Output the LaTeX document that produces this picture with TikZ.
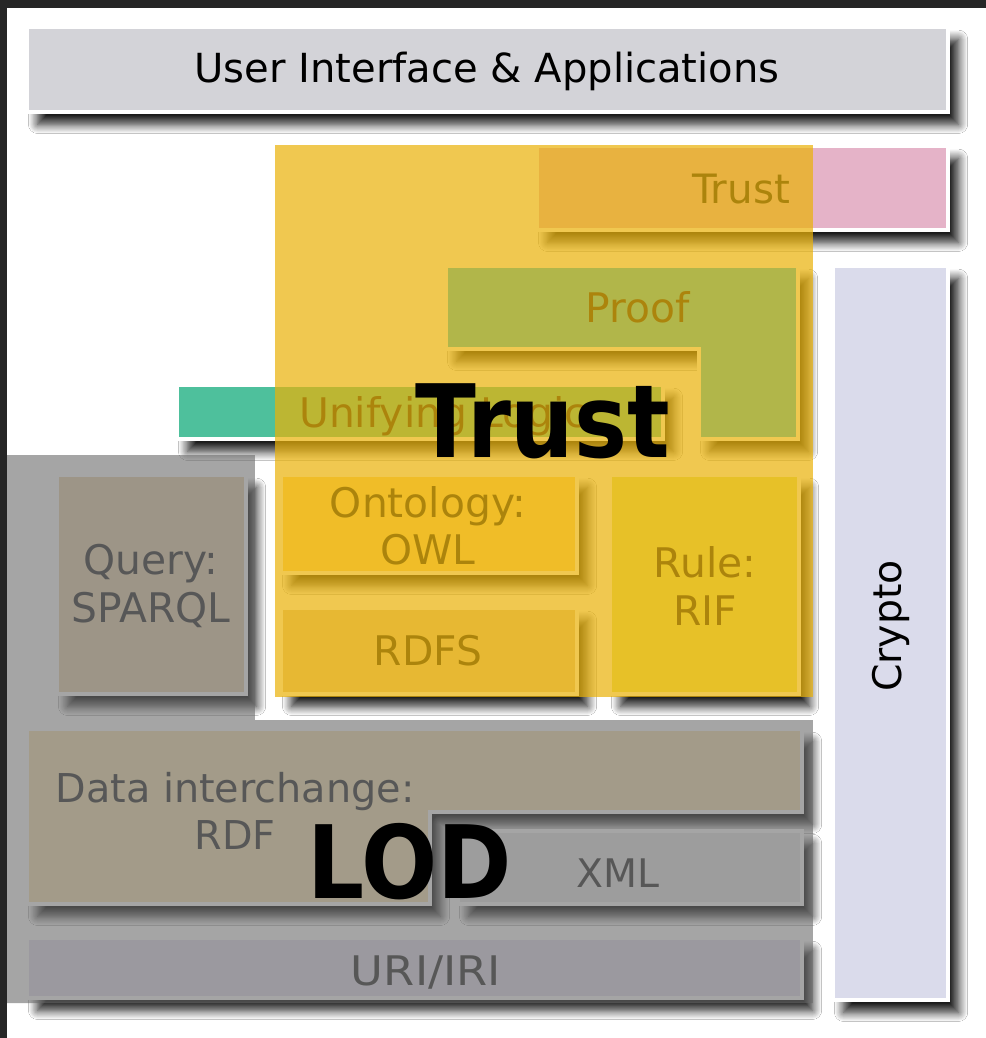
\documentclass[tikz,border=0pt]{standalone}
\usepackage{fontspec}
\usepackage{graphicx}
\setmainfont{DejaVu Sans}
\usetikzlibrary{shadows.blur}

\definecolor{uigrey}{RGB}{211,211,216}
\definecolor{trustpink}{RGB}{229,179,200}
\definecolor{proofc}{RGB}{41,192,233}
\definecolor{logicteal}{RGB}{78,192,156}
\definecolor{cryptoc}{RGB}{218,219,235}
\definecolor{queryc}{RGB}{237,217,182}
\definecolor{owlc}{RGB}{255,219,116}
\definecolor{rdfsc}{RGB}{227,202,157}
\definecolor{rifc}{RGB}{227,233,116}
\definecolor{rdfc}{RGB}{250,232,185}
\definecolor{xmlc}{RGB}{237,237,237}
\definecolor{uric}{RGB}{230,227,240}
\definecolor{ink}{RGB}{22,22,22}
\definecolor{greyink}{RGB}{62,62,62}
\definecolor{lodgrey}{RGB}{105,105,105}
\definecolor{trustgold}{RGB}{234,178,9}
\definecolor{frame}{RGB}{38,38,38}

\begin{document}
\begin{tikzpicture}[x=0.01cm,y=-0.01cm,
    layer/.style={draw=white,line width=1.1pt,
      blur shadow={shadow xshift=3pt,shadow yshift=-3.5pt,shadow blur radius=2.6pt,
        shadow blur steps=10,shadow opacity=90,shadow blur extra rounding=0pt}},
    lbl/.style={inner sep=0pt,anchor=base,text=ink,font=\fontsize{11.6}{13.5}\selectfont},
    lbltwo/.style={inner sep=0pt,align=center,text=ink,font=\fontsize{11.6}{13.5}\selectfont},
    big/.style={inner sep=0pt,anchor=base,text=black,font=\fontsize{28.8}{30}\selectfont\bfseries}]
  \fill[white] (0,0) rectangle (986,1038);
  \useasboundingbox (0,0) rectangle (986,1038);

  % upper layers
  \draw[layer,fill=uigrey] (27,27) rectangle (948,112);
  \node[lbl,text=black,font=\fontsize{11.4}{13}\selectfont] (ui) at (487,82) {User Interface \& Applications};
  \draw[layer,fill=trustpink] (537,146) rectangle (948,230);
  \node[lbl,font=\fontsize{11.5}{13}\selectfont] (trust) at (741,203) {Trust};
  \draw[layer,fill=proofc] (446,266) -- (798,266) -- (798,439) -- (699,439) -- (699,349) -- (446,349) -- cycle;
  \node[lbl] (proof) at (638,322) {Proof};
  \draw[layer,fill=logicteal] (177,385) rectangle (663,439);
  \node[lbl] (logic) at (443,427) {Unifying Logic};
  \draw[layer,fill=cryptoc] (833,266) rectangle (948,1000);
  \node[text=black,inner sep=0pt,rotate=90,font=\fontsize{11.2}{13}\selectfont] (crypto) at (891,626) {Crypto};

  % middle layers
  \draw[layer,fill=queryc] (57,475) rectangle (246,694);
  \node[lbltwo,text=greyink] (query) at (151,586) {Query:\\SPARQL};
  \draw[layer,fill=owlc] (281,475) rectangle (577,573);
  \node[lbltwo] (owl) at (428,526) {Ontology:\\OWL};
  \draw[layer,fill=rdfsc] (281,608) rectangle (577,694);
  \node[lbl] (rdfs) at (428,665) {RDFS};
  \draw[layer,fill=rifc] (610,475) rectangle (799,694);
  \node[lbltwo] (rif) at (705,586) {Rule:\\RIF};

  % lower layers
  \draw[layer,fill=rdfc] (27,729) -- (802,729) -- (802,812) -- (430,812) -- (430,904) -- (27,904) -- cycle;
  \node[lbltwo,text=greyink,font=\fontsize{11.3}{13.5}\selectfont] (rdf) at (235,811) {Data interchange:\\RDF};
  \draw[layer,fill=xmlc] (458,831) rectangle (802,904);
  \node[lbl,text=greyink,font=\fontsize{11.2}{13}\selectfont] (xml) at (618,887) {XML};
  \draw[layer,fill=uric] (27,938) rectangle (802,998);
  \node[lbl,text=greyink] (uri) at (426,985) {\scalebox{1.1}[1]{URI/IRI}};

  % translucent overlays
  \fill[lodgrey,opacity=0.6] (7,455) -- (255,455) -- (255,720) -- (813,720) -- (813,1003) -- (7,1003) -- cycle;
  \fill[trustgold,opacity=0.71] (275,145) rectangle (813,697);
  \node[big] (trustbig) at (543,457) {\scalebox{0.88}[1]{Trust}};
  \node[big] (lod) at (410,898) {\scalebox{0.885}[1]{LOD}};

  % screenshot frame
  \fill[frame] (0,0) rectangle (986,8);
  \fill[frame] (0,0) rectangle (7,1038);
\end{tikzpicture}
\end{document}
